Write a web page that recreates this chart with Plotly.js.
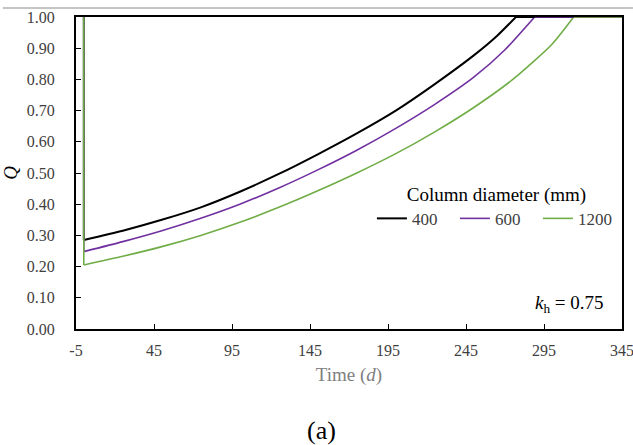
<!DOCTYPE html>
<html>
<head>
<meta charset="utf-8">
<script src="https://cdn.plot.ly/plotly-3.0.1.min.js"></script>
<style>html,body{margin:0;padding:0;background:#fff;}#chart{width:633px;height:445px;}</style>
</head>
<body>
<div id="chart"></div>
<script>
// Each series: vertical jump at t = 0 (from 1.00 down to the start value), then the rising curve, then the 1.00 plateau
const t400  = [0, 0, 25, 50, 75, 100, 125, 150, 175, 200, 225, 250, 265, 277, 345];
const q400  = [1.0, 0.285, 0.315, 0.35, 0.39, 0.44, 0.497, 0.56, 0.627, 0.70, 0.785, 0.877, 0.94, 1.0, 1.0];
const t600  = [0, 0, 25, 50, 75, 100, 125, 150, 175, 200, 225, 250, 270, 289, 345];
const q600  = [1.0, 0.248, 0.28, 0.315, 0.355, 0.40, 0.452, 0.51, 0.573, 0.643, 0.72, 0.807, 0.895, 1.0, 1.0];
const t1200 = [0, 0, 25, 50, 75, 100, 125, 150, 175, 200, 225, 250, 275, 300, 314, 345];
const q1200 = [1.0, 0.205, 0.233, 0.264, 0.30, 0.342, 0.39, 0.443, 0.50, 0.562, 0.632, 0.71, 0.80, 0.912, 1.0, 1.0];
const seriesNames = ['400', '600', '1200'];
const xTicks = [-5, 45, 95, 145, 195, 245, 295, 345];

const serif = 'Liberation Serif';
const colors = ['#000000', '#7030a0', '#70ad47'];
const widths = [2, 1.6, 1.6];
const data = [[t400, q400], [t600, q600], [t1200, q1200]];

const traces = [];
// rising curves (smooth), from the start value up to 1.00
data.forEach(([t, q], i) => {
  traces.push({x: t.slice(1, -1), y: q.slice(1, -1), name: seriesNames[i], mode: 'lines',
    line: {color: colors[i], width: widths[i], shape: 'spline', smoothing: 0.6}});
});
// vertical jumps at t = 0 and the 1.00 plateau (straight)
data.forEach(([t, q], i) => {
  traces.push({x: t.slice(0, 2), y: q.slice(0, 2), name: seriesNames[i], mode: 'lines', showlegend: false,
    line: {color: colors[i], width: widths[i]}});
  traces.push({x: t.slice(-2), y: q.slice(-2), name: seriesNames[i], mode: 'lines', showlegend: false,
    line: {color: colors[i], width: widths[i]}});
});

const layout = {
  width: 633, height: 445,
  margin: {l: 76, r: 11, t: 17, b: 116},
  paper_bgcolor: '#ffffff', plot_bgcolor: '#ffffff',
  font: {family: serif, color: '#404040', size: 16},
  showlegend: true,
  legend: {
    orientation: 'h', x: 0.77, xanchor: 'center', y: 0.49, yanchor: 'top',
    bgcolor: 'rgba(0,0,0,0)',
    entrywidth: 38, entrywidthmode: 'pixels',
    font: {family: serif, size: 17, color: '#404040'},
    title: {text: 'Column diameter (mm)', side: 'top center', font: {family: serif, size: 19, color: '#000000'}},
    itemclick: false
  },
  xaxis: {
    range: [-5, 345], tickvals: xTicks, ticktext: xTicks.map(String),
    showline: true, linecolor: '#000000', linewidth: 2, mirror: true,
    ticks: 'inside', ticklen: 5, tickcolor: '#000000', tickwidth: 1,
    ticklabeloverflow: 'allow', ticklabelstandoff: 6,
    showgrid: false, zeroline: false,
    tickfont: {family: serif, size: 16, color: '#404040'},
    title: {text: 'Time (<i>d</i>)', font: {family: serif, size: 19, color: '#808080'}, standoff: 9}
  },
  yaxis: {
    range: [0, 1], dtick: 0.1, tick0: 0, tickformat: '.2f',
    showline: true, linecolor: '#000000', linewidth: 2, mirror: true,
    ticks: 'inside', ticklen: 5, tickcolor: '#000000', tickwidth: 1,
    showgrid: false, zeroline: false,
    ticklabelstandoff: 16,
    tickfont: {family: serif, size: 16, color: '#404040'},
    title: {text: '<i>Q</i>', font: {family: serif, size: 19, color: '#000000'}, standoff: 10}
  },
  annotations: [
    {xref: 'paper', yref: 'paper', x: 0.903, y: 0.08, xanchor: 'center', yanchor: 'middle',
     text: '<i>k</i><sub>h</sub> = 0.75', showarrow: false, font: {family: serif, size: 19, color: '#000000'}},
    {xref: 'paper', yref: 'paper', x: 0.45, y: -0.325, xanchor: 'center', yanchor: 'middle',
     text: '(a)', showarrow: false, font: {family: serif, size: 26, color: '#000000'}}
  ],
  shapes: [
    {type: 'line', xref: 'paper', yref: 'paper', x0: -0.134, x1: 1.02, y0: 1.029, y1: 1.029,
     line: {color: '#b0b0b0', width: 1.5}}
  ]
};

Plotly.newPlot('chart', traces, layout, {displayModeBar: false, staticPlot: true});
</script>
</body>
</html>
